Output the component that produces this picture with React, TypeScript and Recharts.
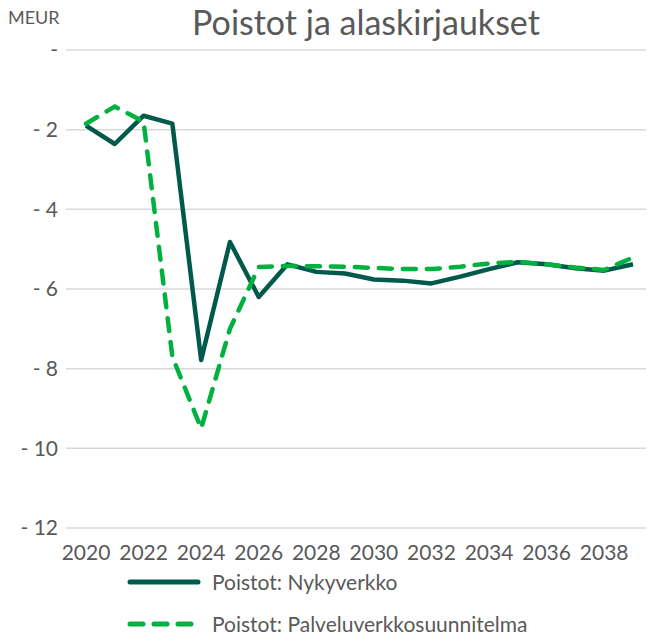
import React from "react"
import { LineChart, Line, XAxis, YAxis, CartesianGrid } from "recharts"

const years = [
  "2020", "2021", "2022", "2023", "2024", "2025", "2026", "2027", "2028", "2029",
  "2030", "2031", "2032", "2033", "2034", "2035", "2036", "2037", "2038", "2039",
]
const nykyverkko = [
  -1.9, -2.36, -1.65, -1.85, -7.78, -4.82, -6.2, -5.38, -5.57, -5.61,
  -5.76, -5.79, -5.86, -5.69, -5.5, -5.33, -5.38, -5.48, -5.54, -5.38,
]
const palveluverkko = [
  -1.85, -1.42, -1.8, -7.7, -9.5, -7.0, -5.45, -5.42, -5.43, -5.44,
  -5.47, -5.5, -5.5, -5.44, -5.36, -5.32, -5.38, -5.46, -5.52, -5.21,
]
const yTicks = [0, -2, -4, -6, -8, -10, -12]

const data = years.map((year, i) => ({
  year,
  nyky: nykyverkko[i],
  palvelu: palveluverkko[i],
}))

const FONT = "Lato, 'Liberation Sans', sans-serif"
const DARK = "#005A4B"
const GREEN = "#00B140"

const formatY = (v: number) => (v === 0 ? "-" : `- ${Math.abs(v)}`)

const legendItems = [
  { label: "Poistot: Nykyverkko", color: DARK, dash: undefined as string | undefined },
  { label: "Poistot: Palveluverkkosuunnitelma", color: GREEN, dash: "13 11" },
]

export default function App() {
  return (
    <div style={{ position: "absolute", left: 0, top: 0, width: 651, height: 636, background: "#fff" }}>
      <div
        style={{
          position: "absolute",
          left: 8,
          top: 6,
          fontFamily: FONT,
          fontSize: 18,
          color: "#595959",
        }}
      >
        MEUR
      </div>
      <div
        style={{
          position: "absolute",
          left: 0,
          width: 732,
          top: 1,
          textAlign: "center",
          fontFamily: FONT,
          fontSize: 34,
          color: "#595959",
        }}
      >
        Poistot ja alaskirjaukset
      </div>
      <LineChart
        width={651}
        height={636}
        data={data}
        margin={{ top: 50, right: 5, left: 0, bottom: 78 }}
        style={{ position: "absolute", left: 0, top: 0 }}
      >
        <CartesianGrid horizontal vertical={false} stroke="#d9d9d9" strokeWidth={1.5} />
        <XAxis
          dataKey="year"
          interval={1}
          axisLine={false}
          tickLine={false}
          padding={{ left: 20, right: 13 }}
          tick={{ fontFamily: FONT, fontSize: 21, fill: "#595959" }}
          tickMargin={11}
          height={30}
        />
        <YAxis
          width={66}
          domain={[-12, 0]}
          ticks={yTicks}
          interval={0}
          axisLine={false}
          tickLine={false}
          tickFormatter={formatY}
          tick={{ fontFamily: FONT, fontSize: 21, fill: "#595959" }}
        />
        <Line
          type="linear"
          dataKey="nyky"
          stroke={DARK}
          strokeWidth={4.5}
          dot={false}
          strokeLinejoin="round"
          isAnimationActive={false}
        />
        <Line
          type="linear"
          dataKey="palvelu"
          stroke={GREEN}
          strokeWidth={4.5}
          strokeDasharray="13 11"
          strokeLinecap="round"
          dot={false}
          isAnimationActive={false}
        />
      </LineChart>
      <div
        style={{
          position: "absolute",
          left: 124,
          top: 572,
          fontFamily: FONT,
          fontSize: 21,
          lineHeight: "20px",
          color: "#595959",
        }}
      >
        {legendItems.map((item, i) => (
          <div key={i} style={{ display: "flex", alignItems: "center", height: 20, marginBottom: i === 0 ? 22 : 0 }}>
            <svg width={88} height={10}>
              <line
                x1={6}
                y1={5}
                x2={74}
                y2={5}
                stroke={item.color}
                strokeWidth={5}
                strokeLinecap="round"
                strokeDasharray={item.dash}
              />
            </svg>
            <span>{item.label}</span>
          </div>
        ))}
      </div>
    </div>
  )
}
